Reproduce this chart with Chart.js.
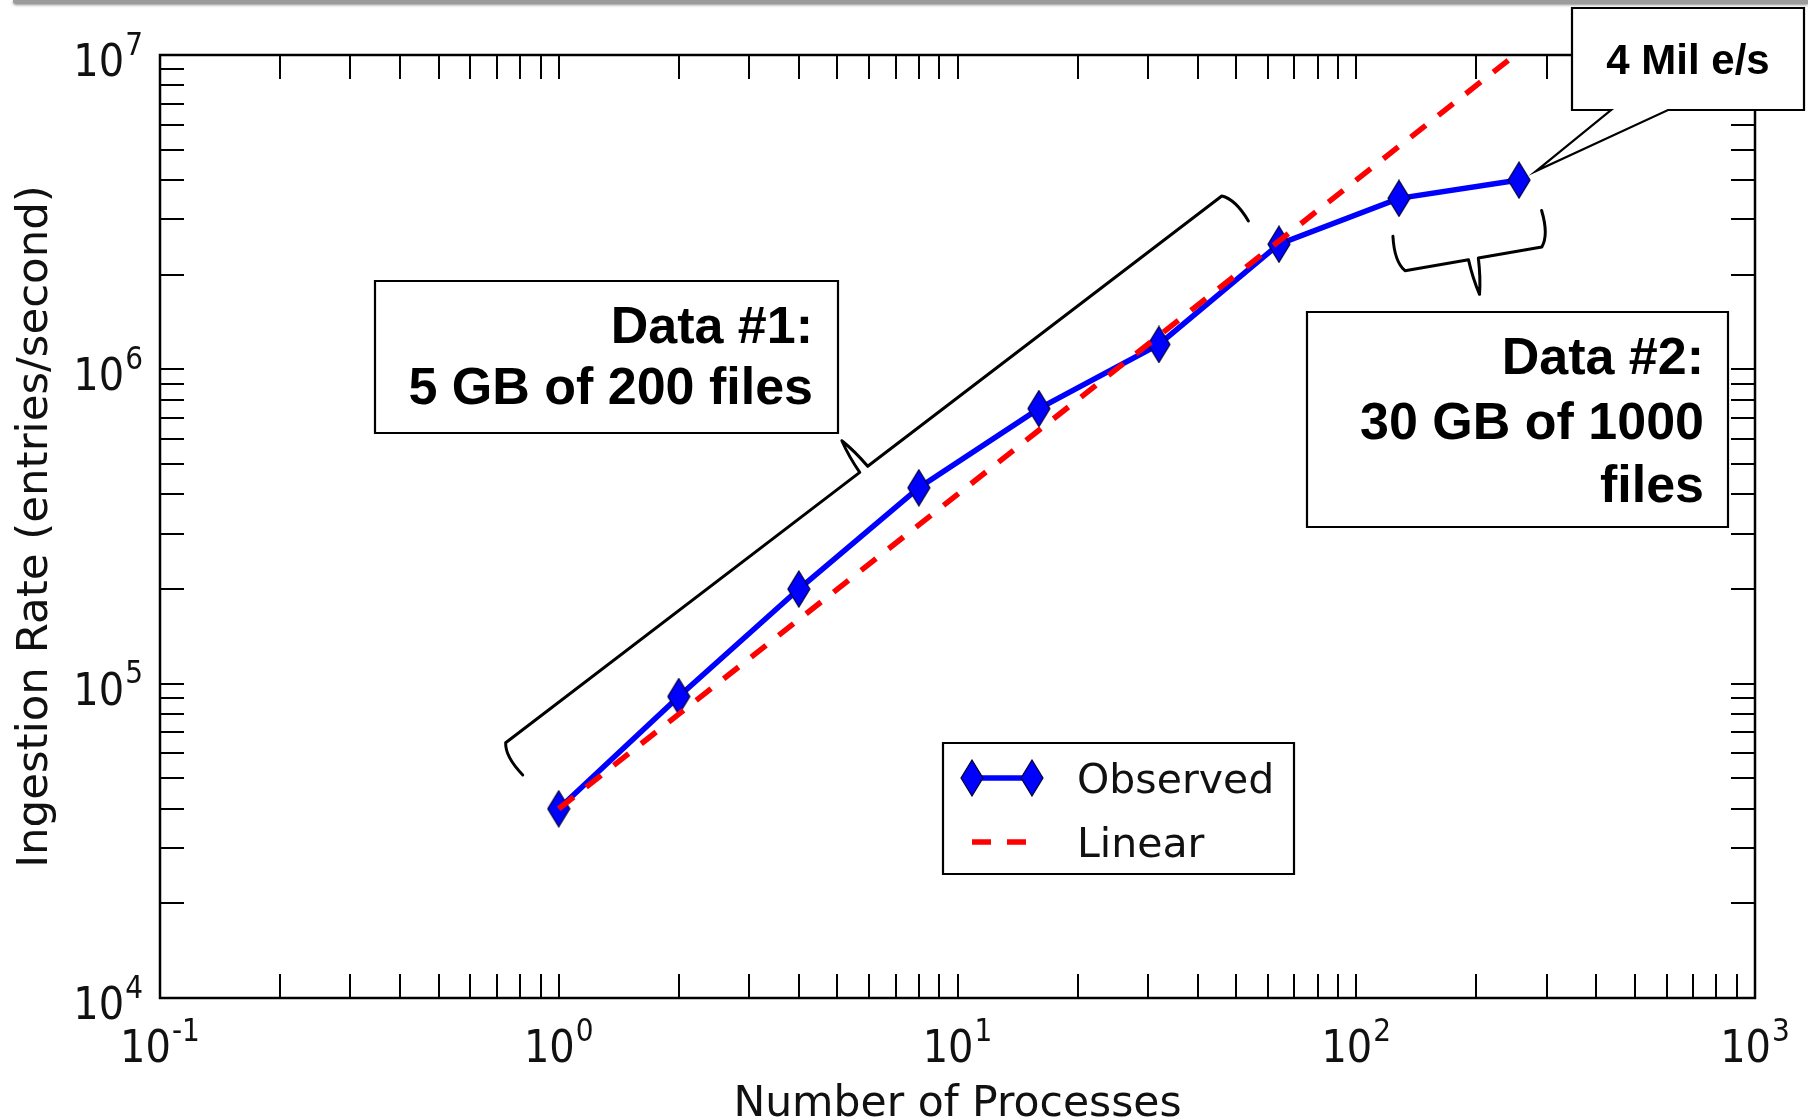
<!DOCTYPE html>
<html>
<head>
<meta charset="utf-8">
<title>Ingestion rate vs number of processes</title>
<script src="https://cdn.jsdelivr.net/npm/chart.js@4.4.1/dist/chart.umd.min.js"></script>
<style>
  html, body { margin: 0; padding: 0; background: #fff; }
  #wrap { position: relative; width: 1808px; height: 1118px; overflow: hidden; }
  #bar { position: absolute; top: 0; left: 13px; right: 0; height: 4px; background: #9c9c9c;
         box-shadow: 0 1px 3px rgba(0, 0, 0, 0.45); border-bottom-left-radius: 3px; }
  canvas { display: block; }
</style>
</head>
<body>
<div id="wrap">
  <canvas id="chart" width="1808" height="1118"></canvas>
  <div id="bar"></div>
</div>
<script>
// measured ingestion rate per process count, and ideal linear scaling from one process
var processes = [1, 2, 4, 8, 16, 32, 64, 128, 256];
var observedRate = [4.0e4, 9.1e4, 2.0e5, 4.2e5, 7.5e5, 1.2e6, 2.5e6, 3.5e6, 4.0e6];
var linearRate = [4.0e4, 8.0e4, 1.6e5, 3.2e5, 6.4e5, 1.28e6, 2.56e6, 5.12e6, 1.024e7];

var xDecades = [0.1, 1, 10, 100, 1000];
var yDecades = [1e4, 1e5, 1e6, 1e7];
var minorSteps = [2, 3, 4, 5, 6, 7, 8, 9];

var seriesNames = ['Observed', 'Linear'];
var xTitle = 'Number of Processes';
var yTitle = 'Ingestion Rate (entries/second)';
var peakLabel = ['4 Mil e/s'];
var data1Label = ['Data #1:', '5 GB of 200 files'];
var data2Label = ['Data #2:', '30 GB of 1000', 'files'];

// brace end points in data space (processes, rate)
var braceSpans = [
  { from: [0.736, 6.49e4], to: [46.0, 3.56e6], side: 1 },
  { from: [132.5, 2.06e6], to: [292, 2.45e6], side: -1 }
];

var TICK = 24;
var INK = '#111';
var LABEL_FONT = '40px "DejaVu Sans", sans-serif';
var SUP_FONT = '28px "DejaVu Sans", sans-serif';

function logTicks(decades) {
  var out = [];
  decades.forEach(function(d, i) {
    out.push(d);
    if (i < decades.length - 1) {
      minorSteps.forEach(function(m) { out.push(d * m); });
    }
  });
  return out;
}

function exponentOf(v) {
  var e = Math.log10(v);
  return Math.abs(e - Math.round(e)) < 1e-6 ? Math.round(e) : null;
}

// "10" with a raised exponent; align is 'right' (y axis) or 'center' (x axis)
function drawPower(ctx, exp, x, baseline, align) {
  var base = '10', sup = String(exp);
  ctx.font = LABEL_FONT;
  var wb = ctx.measureText(base).width;
  ctx.font = SUP_FONT;
  var ws = ctx.measureText(sup).width;
  var w = wb + 1 + ws;
  var left = align === 'right' ? x - w : x - w / 2;
  ctx.save();
  ctx.translate(left, baseline);
  ctx.scale(1, 1.12);
  ctx.textAlign = 'left';
  ctx.textBaseline = 'alphabetic';
  ctx.fillStyle = INK;
  ctx.font = LABEL_FONT;
  ctx.fillText(base, 0, 0);
  ctx.font = SUP_FONT;
  ctx.fillText(sup, wb + 1, -19);
  ctx.restore();
}

// thin matplotlib-style diamond
function diamondMarker(w, h, fill) {
  var c = document.createElement('canvas');
  c.width = w + 2;
  c.height = h + 2;
  var g = c.getContext('2d');
  g.beginPath();
  g.moveTo(c.width / 2, 1);
  g.lineTo(c.width - 1, c.height / 2);
  g.lineTo(c.width / 2, c.height - 1);
  g.lineTo(1, c.height / 2);
  g.closePath();
  g.fillStyle = fill;
  g.fill();
  g.lineWidth = 1.2;
  g.strokeStyle = '#000033';
  g.stroke();
  return c;
}

var diamond = diamondMarker(22, 36, '#0000ff');

// inward ticks on all four sides, the axes box and the decade labels
var frameTicks = {
  id: 'frameTicks',
  beforeDatasetsDraw: function(chart) {
    var ctx = chart.ctx, a = chart.chartArea;
    var xs = chart.scales.x, ys = chart.scales.y;
    ctx.save();
    ctx.strokeStyle = '#000';
    ctx.lineWidth = 2;
    ctx.beginPath();
    xs.ticks.forEach(function(t) {
      var px = Math.round(xs.getPixelForValue(t.value));
      ctx.moveTo(px, a.bottom); ctx.lineTo(px, a.bottom - TICK);
      ctx.moveTo(px, a.top); ctx.lineTo(px, a.top + TICK);
    });
    ys.ticks.forEach(function(t) {
      var py = Math.round(ys.getPixelForValue(t.value));
      ctx.moveTo(a.left, py); ctx.lineTo(a.left + TICK, py);
      ctx.moveTo(a.right, py); ctx.lineTo(a.right - TICK, py);
    });
    ctx.stroke();
    ctx.lineWidth = 2.5;
    ctx.strokeRect(a.left, a.top, a.right - a.left, a.bottom - a.top);

    xs.ticks.forEach(function(t) {
      var e = exponentOf(t.value);
      if (e !== null) drawPower(ctx, e, xs.getPixelForValue(t.value), a.bottom + 64, 'center');
    });
    ys.ticks.forEach(function(t) {
      var e = exponentOf(t.value);
      if (e !== null) drawPower(ctx, e, a.left - 17, ys.getPixelForValue(t.value) + 21, 'right');
    });
    ctx.restore();
  }
};

function toPx(chart, x, y) {
  return { x: chart.scales.x.getPixelForValue(x), y: chart.scales.y.getPixelForValue(y) };
}

function drawBrace(ctx, p, q, side, depth) {
  var dx = q.x - p.x, dy = q.y - p.y, len = Math.hypot(dx, dy);
  var u = { x: dx / len, y: dy / len };
  var n = { x: -u.y * side, y: u.x * side };
  function at(b, au, an) { return { x: b.x + u.x * au + n.x * an, y: b.y + u.y * au + n.y * an }; }
  var m = { x: (p.x + q.x) / 2, y: (p.y + q.y) / 2 };
  var e1 = at(p, -6, depth), c1 = at(p, -9, depth * 0.3);
  var ml = at(m, -5, 0), cl = at(m, -4, -depth * 0.55), tip = at(m, 0, -depth);
  var mr = at(m, 5, 0), cr = at(m, 4, -depth * 0.55);
  var e2 = at(q, 6, depth), c2 = at(q, 9, depth * 0.3);
  ctx.beginPath();
  ctx.moveTo(e1.x, e1.y);
  ctx.quadraticCurveTo(c1.x, c1.y, p.x, p.y);
  ctx.lineTo(ml.x, ml.y);
  ctx.quadraticCurveTo(cl.x, cl.y, tip.x, tip.y);
  ctx.quadraticCurveTo(cr.x, cr.y, mr.x, mr.y);
  ctx.lineTo(q.x, q.y);
  ctx.quadraticCurveTo(c2.x, c2.y, e2.x, e2.y);
  ctx.stroke();
}

var lastIdx = processes.length - 1;
var textBoxes = [
  { lines: data1Label, left: 375, top: 281, width: 463, height: 152, align: 'right', inset: 25,
    baselines: [62, 123], size: 52 },
  { lines: data2Label, left: 1307, top: 312, width: 421, height: 215, align: 'right', inset: 24,
    baselines: [62, 127, 190], size: 52 },
  { lines: peakLabel, left: 1572, top: 8, width: 232, height: 102, align: 'center', inset: 0,
    baselines: [66], size: 42,
    pointer: { from: 39, to: 96, at: [processes[lastIdx], observedRate[lastIdx]], offset: [17, -9] } }
];

var legendBox = { left: 943, top: 743, width: 351, height: 131, sampleX: 972, sampleW: 60,
                  textX: 1077, rows: [35, 99], size: 41 };

var annotations = {
  id: 'annotations',
  afterDraw: function(chart) {
    var ctx = chart.ctx;
    ctx.save();
    ctx.lineCap = 'round';
    ctx.lineJoin = 'round';
    ctx.strokeStyle = '#000';
    ctx.lineWidth = 3;
    braceSpans.forEach(function(b) {
      drawBrace(ctx, toPx(chart, b.from[0], b.from[1]), toPx(chart, b.to[0], b.to[1]), b.side, 36);
    });

    ctx.lineCap = 'butt';
    ctx.lineJoin = 'miter';
    textBoxes.forEach(function(b) {
      var L = b.left, T = b.top, R = b.left + b.width, B = b.top + b.height;
      ctx.beginPath();
      ctx.moveTo(L, T);
      ctx.lineTo(R, T);
      ctx.lineTo(R, B);
      if (b.pointer) {
        var pt = toPx(chart, b.pointer.at[0], b.pointer.at[1]);
        ctx.lineTo(L + b.pointer.to, B);
        ctx.lineTo(pt.x + b.pointer.offset[0], pt.y + b.pointer.offset[1]);
        ctx.lineTo(L + b.pointer.from, B);
      }
      ctx.lineTo(L, B);
      ctx.closePath();
      ctx.fillStyle = '#fff';
      ctx.fill();
      ctx.lineWidth = 2.2;
      ctx.stroke();
      ctx.fillStyle = '#000';
      ctx.font = 'bold ' + b.size + 'px "Liberation Sans", Arial, sans-serif';
      ctx.textBaseline = 'alphabetic';
      ctx.textAlign = b.align;
      var tx = b.align === 'right' ? R - b.inset : (L + R) / 2;
      b.lines.forEach(function(line, i) { ctx.fillText(line, tx, T + b.baselines[i]); });
    });

    // legend, styled from the datasets
    var lg = legendBox;
    ctx.beginPath();
    ctx.rect(lg.left, lg.top, lg.width, lg.height);
    ctx.fillStyle = '#fff';
    ctx.fill();
    ctx.lineWidth = 2.2;
    ctx.strokeStyle = '#000';
    ctx.stroke();
    var dsets = chart.data.datasets;
    ctx.font = lg.size + 'px "DejaVu Sans", sans-serif';
    ctx.textAlign = 'left';
    ctx.textBaseline = 'middle';
    lg.rows.forEach(function(off, i) {
      var ds = dsets[i], y = lg.top + off;
      var x0 = lg.sampleX, x1 = lg.sampleX + lg.sampleW;
      ctx.save();
      ctx.strokeStyle = ds.borderColor;
      ctx.lineWidth = ds.borderWidth;
      ctx.setLineDash(ds.borderDash || []);
      ctx.beginPath();
      if (ds.borderDash) x1 = lg.sampleX + 54;
      ctx.moveTo(x0, y);
      ctx.lineTo(x1, y);
      ctx.stroke();
      ctx.restore();
      if (ds.pointRadius > 0) {
        [x0, x1].forEach(function(x) {
          ctx.drawImage(ds.pointStyle, x - ds.pointStyle.width / 2, y - ds.pointStyle.height / 2);
        });
      }
      ctx.fillStyle = INK;
      ctx.fillText(ds.label, lg.textX, y + 4);
    });
    ctx.restore();
  }
};

Chart.defaults.font.family = '"DejaVu Sans", sans-serif';

new Chart(document.getElementById('chart'), {
  type: 'line',
  data: {
    datasets: [
      {
        label: seriesNames[0],
        data: processes.map(function(p, i) { return { x: p, y: observedRate[i] }; }),
        borderColor: '#0000ff',
        borderWidth: 5.5,
        pointStyle: diamond,
        pointRadius: 12,
        tension: 0,
        order: 2
      },
      {
        label: seriesNames[1],
        data: processes.map(function(p, i) { return { x: p, y: linearRate[i] }; }),
        borderColor: '#ff0000',
        borderWidth: 5.5,
        borderDash: [19, 16],
        pointRadius: 0,
        tension: 0,
        order: 1
      }
    ]
  },
  options: {
    responsive: false,
    animation: false,
    devicePixelRatio: 1,
    layout: { padding: { top: 55, right: 53, left: 0, bottom: 0 } },
    plugins: { legend: { display: false }, tooltip: { enabled: false } },
    scales: {
      x: {
        type: 'logarithmic',
        position: 'bottom',
        min: 0.1,
        max: 1000,
        afterBuildTicks: function(s) { s.ticks = logTicks(xDecades).map(function(v) { return { value: v }; }); },
        afterFit: function(s) { s.height = 120; },
        grid: { display: false, drawTicks: false },
        border: { display: false },
        ticks: { display: false, autoSkip: false },
        title: {
          display: true, text: xTitle, color: INK,
          font: { size: 42.5, lineHeight: 0.8 },
          padding: { top: 0, bottom: -4 }
        }
      },
      y: {
        type: 'logarithmic',
        position: 'left',
        min: 1e4,
        max: 1e7,
        afterBuildTicks: function(s) { s.ticks = logTicks(yDecades).map(function(v) { return { value: v }; }); },
        afterFit: function(s) { s.width = 160; },
        grid: { display: false, drawTicks: false },
        border: { display: false },
        ticks: { display: false, autoSkip: false },
        title: {
          display: true, text: yTitle, color: INK,
          font: { size: 43.5, lineHeight: 1.2 },
          padding: { top: 10, bottom: 0 }
        }
      }
    }
  },
  plugins: [frameTicks, annotations]
});
</script>
</body>
</html>
